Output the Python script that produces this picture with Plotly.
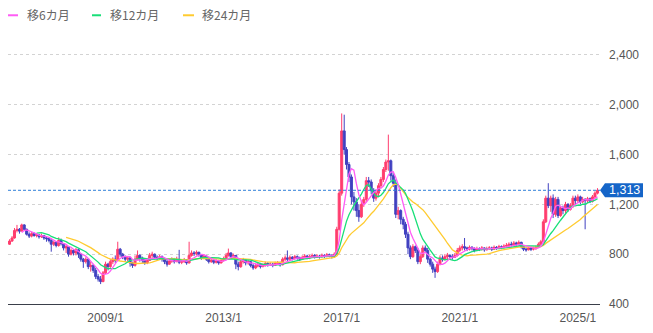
import pandas as pd
import plotly.graph_objects as go

# ---------------- data (monthly candles) ----------------
start_month = "2005-10-01"
first_open = 880

closes_2005_2009 = [905, 930, 990, 1000, 985, 1035, 1000, 960, 945, 965,
                    950, 955, 940, 950, 930, 925, 910, 880, 895, 870,
                    910, 885, 850, 860, 800, 830, 810, 835, 800, 760,
                    740, 760, 700, 710, 670, 620, 600, 580, 650, 720]
highs_2005_2009 = [920, 945, 1010, 1035, 1010, 1045, 1040, 1005, 975, 980,
                   975, 970, 960, 965, 955, 945, 935, 925, 905, 905,
                   935, 925, 890, 875, 865, 845, 840, 850, 845, 805,
                   770, 775, 765, 740, 720, 690, 640, 625, 665, 740]
lows_2005_2009 = [875, 900, 925, 975, 965, 1000, 990, 950, 930, 935,
                  940, 935, 925, 930, 915, 900, 895, 820, 865, 855,
                  860, 870, 830, 810, 780, 790, 790, 790, 770, 740,
                  690, 725, 680, 660, 650, 600, 580, 560, 575, 640]

closes_2009_2013 = [700, 740, 760, 750, 840, 800, 780, 760, 770, 730,
                    710, 760, 790, 770, 750, 730, 750, 790, 800, 775,
                    765, 780, 760, 740, 720, 745, 760, 740, 760, 735,
                    740, 755, 730, 790, 810, 805, 815, 795, 770, 785,
                    760, 740, 750, 735, 745, 730, 750, 765]
highs_2009_2013 = [730, 760, 775, 790, 900, 850, 810, 790, 785, 775,
                   740, 790, 830, 800, 780, 760, 770, 810, 820, 805,
                   790, 795, 790, 770, 760, 760, 775, 770, 780, 835,
                   760, 770, 760, 900, 830, 825, 830, 820, 800, 800,
                   790, 770, 765, 760, 760, 755, 765, 780]
lows_2009_2013 = [670, 690, 720, 730, 760, 780, 760, 740, 745, 700,
                  690, 700, 750, 740, 730, 715, 720, 745, 770, 760,
                  750, 755, 740, 720, 700, 715, 730, 725, 735, 720,
                  720, 730, 715, 725, 780, 785, 790, 780, 755, 760,
                  745, 725, 730, 720, 725, 715, 725, 740]

closes_2013_2017 = [790, 810, 780, 790, 720, 700, 740, 755, 730, 740,
                    710, 690, 705, 720, 700, 710, 725, 715, 720, 710,
                    725, 730, 715, 760, 770, 760, 775, 765, 780, 770,
                    760, 775, 785, 770, 780, 790, 775, 785, 780, 790,
                    785, 795, 790, 780, 800, 1000, 1290, 1790]
highs_2013_2017 = [810, 845, 815, 805, 790, 740, 760, 770, 760, 755,
                   745, 720, 725, 735, 730, 725, 740, 735, 735, 730,
                   740, 745, 740, 775, 790, 830, 790, 785, 795, 790,
                   780, 790, 800, 795, 795, 805, 800, 800, 795, 805,
                   800, 810, 805, 800, 815, 1020, 1320, 1930]
lows_2013_2017 = [765, 780, 765, 760, 680, 670, 690, 725, 710, 715,
                  695, 675, 680, 695, 685, 695, 700, 700, 705, 695,
                  705, 715, 700, 710, 745, 740, 745, 750, 755, 755,
                  745, 755, 765, 760, 760, 770, 765, 770, 765, 770,
                  770, 775, 775, 765, 770, 790, 990, 1270]

closes_2017_2021 = [1640, 1520, 1420, 1260, 1220, 1150, 1100, 1200, 1240, 1390,
                    1380, 1310, 1250, 1290, 1350, 1400, 1480, 1540, 1550, 1430,
                    1370, 1120, 1150, 1080, 1040, 960, 850, 780, 860, 830,
                    740, 780, 850, 830, 760, 720, 680, 660, 720, 770,
                    760, 780, 790, 780, 775, 790, 830, 850]
highs_2017_2021 = [1920, 1660, 1540, 1440, 1300, 1250, 1200, 1230, 1260, 1420,
                   1420, 1400, 1330, 1320, 1370, 1420, 1500, 1560, 1760, 1560,
                   1450, 1400, 1180, 1160, 1100, 1060, 980, 870, 880, 870,
                   850, 800, 870, 870, 850, 770, 740, 700, 740, 790,
                   790, 800, 810, 800, 800, 810, 850, 870]
lows_2017_2021 = [1600, 1480, 1380, 1200, 1150, 1100, 1060, 1090, 1180, 1220,
                  1340, 1280, 1220, 1230, 1260, 1330, 1380, 1460, 1470, 1390,
                  1340, 1090, 1080, 1040, 1000, 930, 800, 760, 770, 810,
                  720, 720, 770, 810, 730, 700, 650, 610, 650, 710,
                  740, 750, 760, 765, 755, 770, 780, 815]

closes_2021_2025 = [860, 850, 840, 855, 845, 830, 845, 840, 850, 835,
                    845, 850, 840, 855, 850, 860, 855, 865, 870, 880,
                    875, 890, 880, 895, 860, 840, 835, 850, 840, 845,
                    855, 880, 900, 1060, 1250, 1190, 1250, 1120, 1240, 1110,
                    1170, 1150, 1200, 1160, 1190, 1250, 1230, 1260, 1220, 1240,
                    1230, 1245, 1225, 1260, 1290, 1313]
highs_2021_2025 = [880, 930, 860, 870, 865, 855, 860, 855, 865, 855,
                   860, 865, 860, 870, 865, 875, 870, 880, 890, 895,
                   900, 905, 900, 910, 900, 865, 855, 860, 860, 860,
                   870, 895, 915, 1080, 1270, 1370, 1270, 1280, 1260, 1260,
                   1190, 1190, 1220, 1210, 1210, 1270, 1270, 1280, 1270, 1260,
                   1250, 1260, 1255, 1275, 1305, 1330]
lows_2021_2025 = [830, 830, 825, 830, 830, 815, 825, 825, 830, 820,
                  830, 835, 825, 835, 835, 840, 840, 845, 850, 860,
                  860, 865, 865, 870, 845, 825, 820, 830, 825, 830,
                  835, 850, 870, 890, 1050, 1170, 1140, 1090, 1100, 1090,
                  1100, 1120, 1130, 1140, 1150, 1170, 1200, 1210, 1200, 1210,
                  1000, 1210, 1210, 1215, 1250, 1280]

ma_windows = [6, 12, 24]
ma_names = ["移6カ月", "移12カ月", "移24カ月"]
last_price = 1313

y_tick_values = [400, 800, 1200, 1600, 2000, 2400]
x_tick_dates = ["2009-01-01", "2013-01-01", "2017-01-01", "2021-01-01", "2025-01-01"]
x_tick_labels = ["2009/1", "2013/1", "2017/1", "2021/1", "2025/1"]

# ---------------- assemble ----------------
closes = closes_2005_2009 + closes_2009_2013 + closes_2013_2017 + closes_2017_2021 + closes_2021_2025
highs = highs_2005_2009 + highs_2009_2013 + highs_2013_2017 + highs_2017_2021 + highs_2021_2025
lows = lows_2005_2009 + lows_2009_2013 + lows_2013_2017 + lows_2017_2021 + lows_2021_2025
dates = pd.date_range(start_month, periods=len(closes), freq="MS")
opens = [first_open] + closes[:-1]
highs = [max(h, o, c) for h, o, c in zip(highs, opens, closes)]
lows = [min(l, o, c) for l, o, c in zip(lows, opens, closes)]
close_s = pd.Series(closes, index=dates, dtype=float)

# ---------------- style ----------------
W, H = 653, 333
ML, MR, MT, MB = 8, 53, 30, 24
PW, PH = W - ML - MR, H - MT - MB
UP, DOWN = "#ff3d6e", "#4040c0"
MA_COLORS = ["#ff5cf5", "#18df78", "#ffcb30"]
CJK = "Noto Sans CJK JP"
LATIN = "Liberation Sans, Arial, Noto Sans CJK JP"


def px_x(px):
    return (px - ML) / PW


def px_y(py):
    return (MT + PH - py) / PH


fig = go.Figure()
fig.add_trace(go.Candlestick(
    x=dates, open=opens, high=highs, low=lows, close=closes,
    increasing=dict(line=dict(color=UP, width=1), fillcolor=UP),
    decreasing=dict(line=dict(color=DOWN, width=1), fillcolor=DOWN),
    whiskerwidth=0, showlegend=False, hoverinfo="skip",
))
for win, name, col in zip(ma_windows[::-1], ma_names[::-1], MA_COLORS[::-1]):
    ma = close_s.rolling(win).mean()
    fig.add_trace(go.Scatter(x=ma.index, y=ma.values, mode="lines", name=name,
                             line=dict(color=col, width=1.3), showlegend=False,
                             hoverinfo="skip"))

shapes = []
annotations = []
# current price dashed line
shapes.append(dict(type="line", xref="paper", x0=0, x1=1, yref="y",
                   y0=last_price, y1=last_price,
                   line=dict(color="#2f7fd8", width=1, dash="3px,2px")))
# price tag
shapes.append(dict(type="path", xref="paper", xanchor=1, xsizemode="pixel",
                   yref="y", yanchor=last_price, ysizemode="pixel",
                   path="M 0,0 L 5,-7 L 43,-7 L 43,7 L 5,7 Z",
                   fillcolor="#1565c8", line=dict(width=0)))
annotations.append(dict(xref="paper", x=1, xanchor="center", xshift=24,
                        yref="y", y=last_price, yanchor="middle",
                        text=f"{last_price:,}", showarrow=False,
                        font=dict(family=LATIN, size=12.5, color="white")))

# manual legend
legend_line_x = [(8, 18), (92, 101), (183, 194)]
legend_text_x = [25, 108, 200]
for (lx0, lx1), tx, name, col in zip(legend_line_x, legend_text_x, ma_names, MA_COLORS):
    shapes.append(dict(type="line", xref="paper", yref="paper",
                       x0=px_x(lx0), x1=px_x(lx1), y0=px_y(15), y1=px_y(15),
                       line=dict(color=col, width=2)))
    annotations.append(dict(xref="paper", yref="paper", x=px_x(tx), y=px_y(14),
                            xanchor="left", yanchor="middle", text=name,
                            showarrow=False,
                            font=dict(family=CJK, size=12, color="#666666")))

fig.update_layout(
    width=W, height=H,
    margin=dict(l=ML, r=MR, t=MT, b=MB, pad=0),
    paper_bgcolor="white", plot_bgcolor="white",
    font=dict(family=LATIN, size=12, color="#555555"),
    showlegend=False,
    boxgap=0.12, boxgroupgap=0,
    shapes=shapes, annotations=annotations,
    xaxis=dict(
        type="date",
        range=["2005-09-12", "2025-10-02"],
        rangeslider=dict(visible=False),
        tickvals=x_tick_dates, ticktext=x_tick_labels,
        showgrid=False, zeroline=False,
        showline=True, linecolor="#3a3f4a", linewidth=1,
        ticks="", ticklabelstandoff=3,
        tickfont=dict(size=12, color="#555555"),
        fixedrange=True,
    ),
    yaxis=dict(
        side="right", range=[400, 2600],
        tickvals=y_tick_values, tickformat=",d",
        showgrid=True, gridcolor="#d3d3d3", griddash="3px,3px", gridwidth=1,
        zeroline=False, showline=False, ticks="",
        ticklabelstandoff=8,
        tickfont=dict(size=12, color="#555555"),
        fixedrange=True,
    ),
)

fig.write_html("out.html")
